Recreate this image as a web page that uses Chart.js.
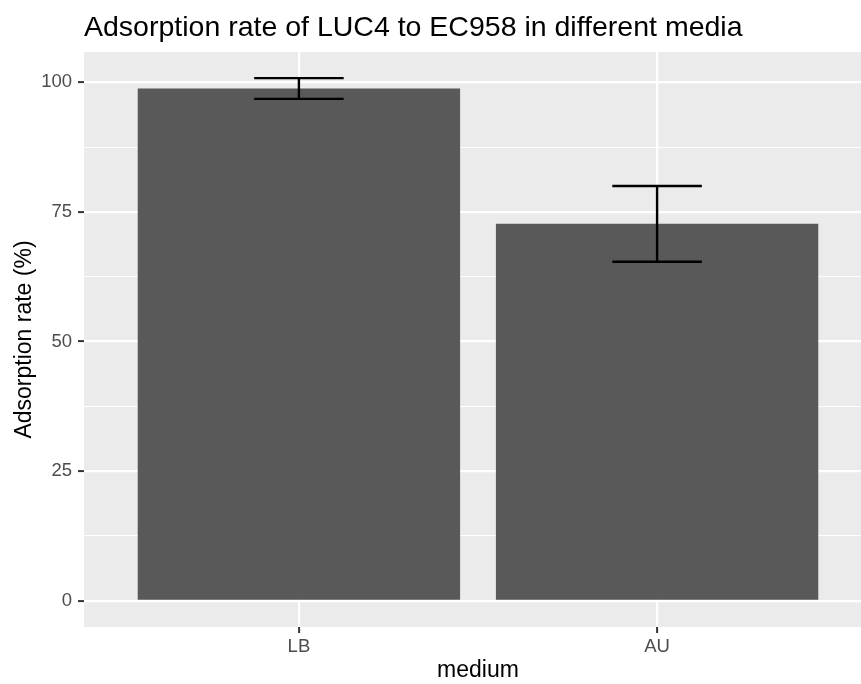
<!DOCTYPE html>
<html lang="en">
<head>
    <meta charset="UTF-8">
    <title>Adsorption rate of LUC4 to EC958</title>
    <script src="https://cdn.jsdelivr.net/npm/chart.js"></script>
    <style>
        html, body { margin: 0; padding: 0; overflow: hidden; background: #fff; }
        #wrap { width: 872px; height: 684px; position: relative; }
    </style>
</head>
<body>
    <div id="wrap"><canvas id="adsorptionChart"></canvas></div>

    <script>
        // Mean adsorption rate (%) per medium, with standard deviation
        const media = ['LB', 'AU'];
        const meanRate = [98.8, 72.7];
        const sdRate = [2.0, 7.3];

        // Axis ticks: labelled majors plus unlabelled minor grid lines
        const yTicks = [0, 25, 50, 75, 100];
        const yMinorTicks = [12.5, 37.5, 62.5, 87.5];

        const FONT = '"Liberation Sans", Arial, Helvetica, sans-serif';
        const PANEL_BG = '#EBEBEB';
        const ERRORBAR_WIDTH = 0.25; // in category units

        // grey panel behind the grid
        const panelBackground = {
            id: 'panelBackground',
            beforeDraw(chart) {
                const { ctx, chartArea: a } = chart;
                ctx.save();
                ctx.fillStyle = PANEL_BG;
                ctx.fillRect(a.left, a.top, a.right - a.left, a.bottom - a.top);
                ctx.restore();
            }
        };

        // mean +/- sd whiskers on top of the bars
        const errorBars = {
            id: 'errorBars',
            afterDatasetsDraw(chart) {
                const { ctx, scales: { x, y } } = chart;
                ctx.save();
                ctx.strokeStyle = '#000';
                ctx.lineWidth = 2.4;
                ctx.lineCap = 'butt';
                meanRate.forEach((m, i) => {
                    const xc = x.getPixelForValue(i);
                    const x0 = x.getPixelForValue(i - ERRORBAR_WIDTH / 2);
                    const x1 = x.getPixelForValue(i + ERRORBAR_WIDTH / 2);
                    const yHi = y.getPixelForValue(m + sdRate[i]);
                    const yLo = y.getPixelForValue(m - sdRate[i]);
                    ctx.beginPath();
                    ctx.moveTo(x0, yHi); ctx.lineTo(x1, yHi);
                    ctx.moveTo(xc, yHi); ctx.lineTo(xc, yLo);
                    ctx.moveTo(x0, yLo); ctx.lineTo(x1, yLo);
                    ctx.stroke();
                });
                ctx.restore();
            }
        };

        const isMajor = v => yTicks.includes(v);

        new Chart(document.getElementById('adsorptionChart'), {
            type: 'bar',
            data: {
                datasets: [{
                    data: meanRate.map((m, i) => ({ x: i, y: m })),
                    backgroundColor: '#595959',
                    borderWidth: 0,
                    barPercentage: 0.9,
                    categoryPercentage: 1.0
                }]
            },
            options: {
                responsive: true,
                maintainAspectRatio: false,
                animation: false,
                layout: { padding: 0 },
                plugins: {
                    legend: { display: false },
                    tooltip: { enabled: false },
                    title: {
                        display: true,
                        text: 'Adsorption rate of LUC4 to EC958 in different media',
                        align: 'start',
                        fullSize: false,
                        color: '#000',
                        font: { family: FONT, size: 28.5, weight: 'normal' },
                        padding: { top: 11, bottom: 6.8 }
                    }
                },
                scales: {
                    x: {
                        type: 'linear',
                        min: -0.6,
                        max: 1.6,
                        offset: false,
                        afterBuildTicks: scale => {
                            scale.ticks = media.map((_, i) => ({ value: i }));
                        },
                        afterFit: scale => { scale.height = 57; },
                        border: { display: false },
                        grid: {
                            offset: false,
                            color: '#FFFFFF',
                            lineWidth: 2.2,
                            tickColor: '#333333',
                            tickWidth: 2,
                            tickLength: 6
                        },
                        ticks: {
                            autoSkip: false,
                            maxRotation: 0,
                            padding: 3,
                            color: '#4D4D4D',
                            font: { family: FONT, size: 18.5 },
                            callback: v => media[v]
                        },
                        title: {
                            display: true,
                            text: 'medium',
                            color: '#000',
                            font: { family: FONT, size: 23 },
                            padding: { top: 0, bottom: 0 }
                        }
                    },
                    y: {
                        min: -5.04,
                        max: 105.84,
                        afterBuildTicks: scale => {
                            scale.ticks = [...yTicks, ...yMinorTicks]
                                .sort((a, b) => a - b)
                                .map(v => ({ value: v }));
                        },
                        afterFit: scale => { scale.width = 84; },
                        border: { display: false },
                        grid: {
                            color: '#FFFFFF',
                            lineWidth: ctx => isMajor(ctx.tick.value) ? 2.2 : 1.1,
                            tickColor: ctx => isMajor(ctx.tick.value) ? '#333333' : 'rgba(0,0,0,0)',
                            tickWidth: 2,
                            tickLength: 6
                        },
                        ticks: {
                            autoSkip: false,
                            padding: 6,
                            color: '#4D4D4D',
                            font: { family: FONT, size: 18.5 },
                            callback: v => isMajor(v) ? String(v) : ''
                        },
                        title: {
                            display: true,
                            text: 'Adsorption rate (%)',
                            color: '#000',
                            font: { family: FONT, size: 23 },
                            padding: { top: 11, bottom: 0 }
                        }
                    }
                }
            },
            plugins: [panelBackground, errorBars]
        });
    </script>
</body>
</html>
